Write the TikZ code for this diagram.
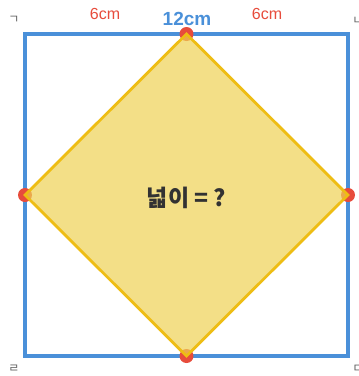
\documentclass[tikz,border=0pt]{standalone}
\usepackage{fontspec}
\setmainfont{Liberation Sans}
\newfontfamily\krfont{Noto Sans CJK KR}
\usepackage{tikz}
\usetikzlibrary{calc}
\definecolor{sideBlue}{RGB}{74,144,217}
\definecolor{rhombFill}{RGB}{238,209,84}
\definecolor{rhombEdge}{RGB}{238,189,20}
\definecolor{dotRed}{RGB}{231,76,60}
\definecolor{markGray}{RGB}{95,95,95}
\definecolor{askDark}{RGB}{50,50,50}

\begin{document}
\begin{tikzpicture}[x=1pt, y=-1pt, every node/.style={inner sep=0pt}]
  \useasboundingbox (0,0) rectangle (359,376);
  \coordinate (A) at (25,34);
  \coordinate (B) at (348,34);
  \coordinate (C) at (348,356);
  \coordinate (D) at (25,356);
  \coordinate (M1) at ($(A)!0.5!(B)$);
  \coordinate (M2) at ($(B)!0.5!(C)$);
  \coordinate (M3) at ($(C)!0.5!(D)$);
  \coordinate (M4) at ($(D)!0.5!(A)$);
  \draw[sideBlue, line width=3.5pt] (A) -- (B) -- (C) -- (D) -- cycle;
  \foreach \p in {M1,M2,M3,M4} { \fill[dotRed] (\p) circle (7pt); }
  \fill[rhombFill, fill opacity=0.7] (M1) -- (M2) -- (M3) -- (M4) -- cycle;
  \draw[rhombEdge, line width=2.8pt] (M1) -- (M2) -- (M3) -- (M4) -- cycle;
  \node[text=dotRed, font=\fontsize{16}{16}\selectfont] (halfL) at (105,14) {6cm};
  \node[text=sideBlue, font=\bfseries\fontsize{19}{19}\selectfont] (whole) at (187,19) {12cm};
  \node[text=dotRed, font=\fontsize{16}{16}\selectfont] (halfR) at (267,14) {6cm};
  \node[text=askDark, font=\krfont\bfseries\fontsize{23}{23}\selectfont] (ask) at (186.5,198) {넓이 = ?};
  \node[text=markGray, font=\krfont\fontsize{12}{12}\selectfont] (cornA) at (14,20) {ㄱ};
  \node[text=markGray, font=\krfont\fontsize{12}{12}\selectfont] (cornB) at (358,21) {ㄴ};
  \node[text=markGray, font=\krfont\fontsize{12}{12}\selectfont] (cornC) at (358,369) {ㄷ};
  \node[text=markGray, font=\krfont\fontsize{12}{12}\selectfont] (cornD) at (14,369) {ㄹ};
\end{tikzpicture}
\end{document}
